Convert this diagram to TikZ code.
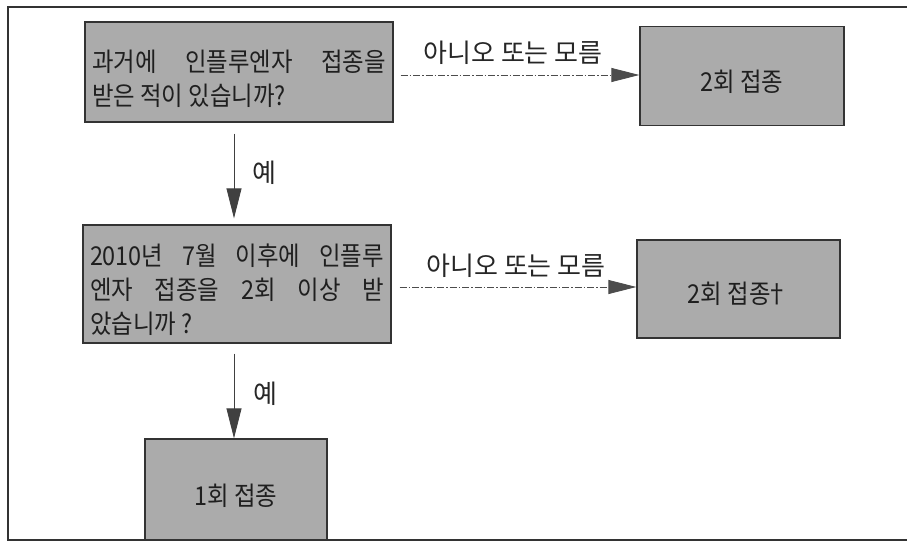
\documentclass[tikz,border=0pt]{standalone}
\usepackage{fontspec}
\setmainfont{Noto Sans CJK KR}
\newfontfamily\boxfont[FakeStretch=0.9]{Noto Sans CJK KR}
\usetikzlibrary{arrows.meta}
\tikzset{
  boxnode/.style={draw=black!80, line width=1.3pt, fill=black!33, inner sep=0pt},
  boxtext/.style={inner sep=0pt, text=black!88, font=\boxfont\fontsize{26pt}{34pt}\selectfont},
  lbl/.style={inner sep=0pt, text=black!85, font=\fontsize{26pt}{28pt}\selectfont},
  varr/.style={draw=black!75, line width=0.8pt, -{Triangle[length=30pt,width=15pt]}},
  darr/.style={draw=black!70, line width=0.8pt, dash pattern=on 7pt off 2pt on 1.5pt off 2pt,
    -{Triangle[length=28pt,width=14pt]}},
  frameline/.style={draw=black!80, line width=1.3pt}
}
\begin{document}
\begin{tikzpicture}[x=1pt,y=-1pt]
\useasboundingbox (0,0) rectangle (907,543);
% frame
\coordinate (ftl) at (8,7);
\coordinate (ftr) at (907,7);
\coordinate (fbl) at (8,540);
\coordinate (fbr) at (907,540);
\draw[frameline] (ftr) -- (ftl) -- (fbl) -- (fbr);
% boxes
\node[boxnode, minimum width=308pt, minimum height=100pt] (b1) at (239,72) {};
\node[boxnode, minimum width=204pt, minimum height=99pt] (b2) at (742,76) {};
\node[boxnode, minimum width=308pt, minimum height=118pt] (b3) at (237,284) {};
\node[boxnode, minimum width=203pt, minimum height=98pt] (b4) at (738.5,289) {};
\node[boxnode, minimum width=182pt, minimum height=101pt] (b5) at (236,489.5) {};
% box texts
\node[boxtext, align=left] (t1) at ([yshift=-7pt]b1.center)
  {\makebox[294pt][s]{과거에 인플루엔자 접종을}\\ \makebox[294pt][l]{받은 적이 있습니까?}};
\node[boxtext] (t2) at ([yshift=-6pt]b2.center) {2회 접종};
\node[boxtext, align=left] (t3) at ([yshift=-6pt]b3.center)
  {\makebox[294pt][s]{2010년 7월 이후에 인플루}\\ \makebox[294pt][s]{엔자 접종을 2회 이상 받}\\ \makebox[294pt][l]{았습니까 ?}};
\node[boxtext] (t4) at ([yshift=-5pt]b4.center) {2회 접종\kern-5pt†};
\node[boxtext] (t5) at ([yshift=-6pt]b5.center) {1회 접종};
% labels
\node[lbl] (l1) at (513,53) {아니오 또는 모름};
\node[lbl] (l2) at (516,266) {아니오 또는 모름};
\node[lbl] (y1) at (264,173) {예};
\node[lbl] (y2) at (265,394) {예};
% arrows
\draw[varr] ([xshift=-5pt,yshift=-11pt]b1.south) -- ([xshift=-3pt,yshift=6pt]b3.north);
\draw[varr] ([xshift=-3pt,yshift=-10pt]b3.south) -- ([xshift=-2pt]b5.north);
\draw[darr] ([xshift=7pt,yshift=-3pt]b1.east) -- ([yshift=1pt]b2.west);
\draw[darr] ([xshift=8pt,yshift=-3pt]b3.east) -- ([yshift=2pt]b4.west);
\end{tikzpicture}
\end{document}
